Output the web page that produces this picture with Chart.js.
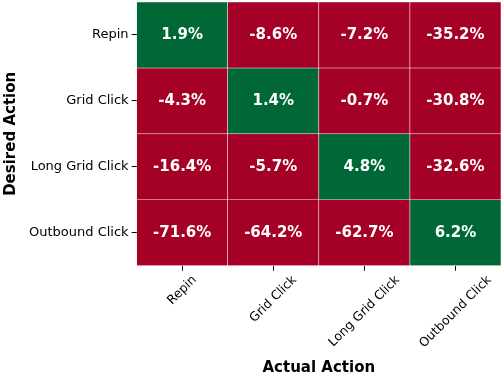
<!DOCTYPE html>
<html>
<head>
<meta charset="utf-8">
<script src="https://cdn.jsdelivr.net/npm/chart.js@4"></script>
<style>
  html, body { margin: 0; padding: 0; background: #fff; }
</style>
</head>
<body>
<canvas id="heatChart" width="503" height="378"></canvas>
<script>
// Heatmap: desired vs actual action
const actualActions = ["Repin", "Grid Click", "Long Grid Click", "Outbound Click"];
const desiredActions = ["Repin", "Grid Click", "Long Grid Click", "Outbound Click"];

const repinRow = [1.9, -8.6, -7.2, -35.2];
const gridClickRow = [-4.3, 1.4, -0.7, -30.8];
const longGridRow = [-16.4, -5.7, 4.8, -32.6];
const outboundRow = [-71.6, -64.2, -62.7, 6.2];
const rows = [repinRow, gridClickRow, longGridRow, outboundRow];

const GREEN = "#006837";
const RED = "#a50026";

const datasets = rows.map((row, i) => ({
  label: desiredActions[i],
  data: row.map(() => 1),
  values: row,
  backgroundColor: row.map(v => v >= 0 ? GREEN : RED),
  borderColor: "rgba(255,235,238,0.85)",
  borderWidth: 0.6,
  borderSkipped: false,
  barPercentage: 1,
  categoryPercentage: 1
}));

// write the % value in each cell
const cellText = {
  id: "cellText",
  afterDatasetsDraw(chart) {
    const ctx = chart.ctx;
    ctx.save();
    ctx.font = "bold 15px 'DejaVu Sans'";
    ctx.fillStyle = "#fff";
    ctx.textAlign = "center";
    ctx.textBaseline = "middle";
    chart.data.datasets.forEach((ds, i) => {
      chart.getDatasetMeta(i).data.forEach((bar, j) => {
        const c = bar.getCenterPoint();
        ctx.fillText(ds.values[j].toFixed(1) + "%", c.x, c.y);
      });
    });
    ctx.restore();
  }
};

// center rotated x labels on their tick (matplotlib style)
const centerXLabels = {
  id: "centerXLabels",
  beforeDraw(chart) {
    const scale = chart.scales.x;
    const items = scale.getLabelItems(chart.chartArea);
    const ctx = chart.ctx;
    items.forEach(item => {
      if (item._shifted) return;
      ctx.save();
      ctx.font = item.font.string;
      const w = ctx.measureText(item.label).width;
      ctx.restore();
      item.options.translation[0] += w * Math.cos(Math.PI / 4) / 2;
      item._shifted = true;
    });
  }
};

new Chart(document.getElementById("heatChart"), {
  type: "bar",
  data: {
    labels: actualActions,
    datasets: datasets
  },
  options: {
    responsive: false,
    animation: false,
    layout: { padding: { top: 2, right: 2, left: 0, bottom: 0 } },
    plugins: {
      legend: { display: false },
      tooltip: { enabled: false }
    },
    scales: {
      x: {
        stacked: true,
        grid: {
          offset: false,
          drawOnChartArea: false,
          tickLength: 5,
          tickColor: "#000"
        },
        border: { display: false },
        ticks: {
          color: "#000",
          font: { family: "DejaVu Sans", size: 12.5 },
          minRotation: 45,
          maxRotation: 45,
          padding: 2
        },
        title: {
          display: true,
          text: "Actual Action",
          color: "#000",
          font: { family: "DejaVu Sans", size: 15, weight: "bold" },
          padding: { top: 6, bottom: 1 }
        },
        afterFit(axis) {
          axis.paddingLeft = 0;
          axis.paddingRight = 0;
        }
      },
      y: {
        stacked: true,
        reverse: true,
        min: 0,
        max: 4,
        afterBuildTicks(axis) {
          axis.ticks = [0.5, 1.5, 2.5, 3.5].map(v => ({ value: v }));
        },
        afterFit(axis) {
          axis.paddingTop = 0;
          axis.paddingBottom = 0;
        },
        grid: {
          drawOnChartArea: false,
          tickLength: 5,
          tickColor: "#000"
        },
        border: { display: false },
        ticks: {
          color: "#000",
          font: { family: "DejaVu Sans", size: 13 },
          padding: 3,
          callback: v => desiredActions[Math.floor(v)]
        },
        title: {
          display: true,
          text: "Desired Action",
          color: "#000",
          font: { family: "DejaVu Sans", size: 15, weight: "bold" },
          padding: { top: 2, bottom: 6 }
        }
      }
    }
  },
  plugins: [cellText, centerXLabels]
});
</script>
</body>
</html>
